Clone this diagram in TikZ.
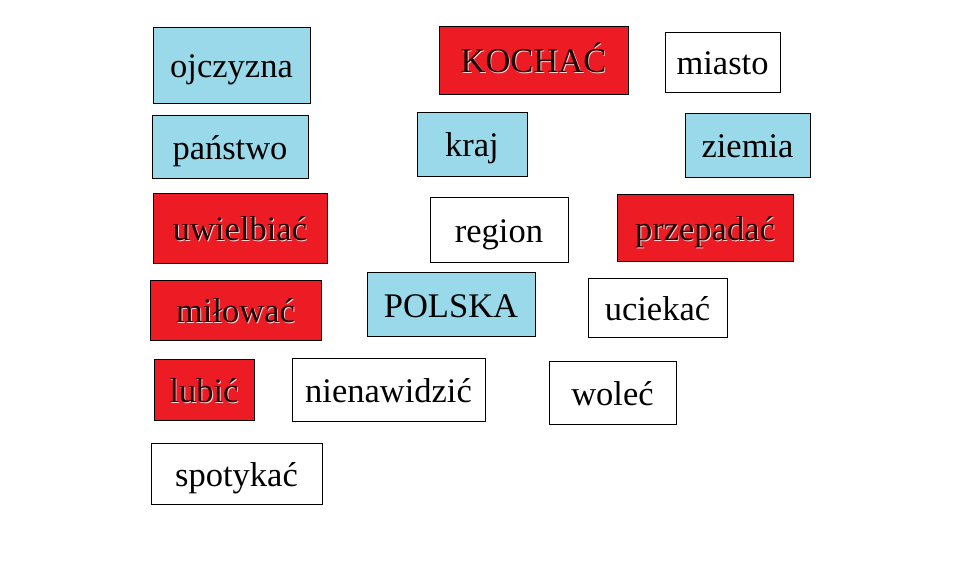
\documentclass[tikz,border=0pt]{standalone}
\usepackage{fontspec}
\setmainfont{Liberation Serif}
\usepackage{tikz}
\definecolor{boxblue}{HTML}{99D9EA}
\definecolor{boxred}{HTML}{ED1C24}
\definecolor{inkred}{HTML}{1A0202}
% dark letters with a light edge, as in the red boxes
\newcommand{\embossed}[1]{\makebox[0pt][l]{\hspace{0.9pt}\raisebox{-0.6pt}{\color{white!80!boxred}#1}}\textcolor{inkred}{#1}}
\tikzset{
	word/.style={draw, rectangle, inner sep=0pt, line width=0.9pt, font=\fontsize{34.5}{40}\selectfont, text height=27pt, text depth=1pt},
	bluebox/.style={word, fill=boxblue},
	redbox/.style={word, fill=boxred},
	whitebox/.style={word, fill=white},
}

\begin{document}
\begin{tikzpicture}[x=1pt, y=-1pt]
	\useasboundingbox (0,0) rectangle (967,580);
	
	\node (ojczyzna) [bluebox, minimum width=157, minimum height=76] at (231.5,65) {ojczyzna};
	\node (kochac) [redbox, minimum width=189, minimum height=68] at (533.5,60) {\embossed{KOCHAĆ}};
	\node (miasto) [whitebox, minimum width=115, minimum height=60] at (722.5,62) {miasto};
	
	\node (panstwo) [bluebox, minimum width=156, minimum height=63] at (230,146.5) {państwo};
	\node (kraj) [bluebox, minimum width=110, minimum height=64] at (472,144) {kraj};
	\node (ziemia) [bluebox, minimum width=125, minimum height=64] at (747.5,145) {ziemia};
	
	\node (uwielbiac) [redbox, minimum width=174, minimum height=70] at (240,228) {\embossed{uwielbiać}};
	\node (region) [whitebox, minimum width=138, minimum height=65] at (499,229.5) {region};
	\node (przepadac) [redbox, minimum width=176, minimum height=67] at (705,227.5) {\embossed{przepadać}};
	
	\node (milowac) [redbox, minimum width=171, minimum height=60] at (235.5,310) {\embossed{miłować}};
	\node (polska) [bluebox, minimum width=168, minimum height=64] at (451,304) {POLSKA};
	\node (uciekac) [whitebox, minimum width=139, minimum height=59] at (657.5,307.5) {uciekać};
	
	\node (lubic) [redbox, minimum width=100, minimum height=61] at (204,389.5) {\embossed{lubić}};
	\node (nienawidzic) [whitebox, minimum width=193, minimum height=63] at (388.5,389.5) {nienawidzić};
	\node (wolec) [whitebox, minimum width=127, minimum height=63] at (612.5,392.5) {woleć};
	
	\node (spotykac) [whitebox, minimum width=171, minimum height=61] at (236.5,473.5) {spotykać};
	
\end{tikzpicture}
\end{document}
